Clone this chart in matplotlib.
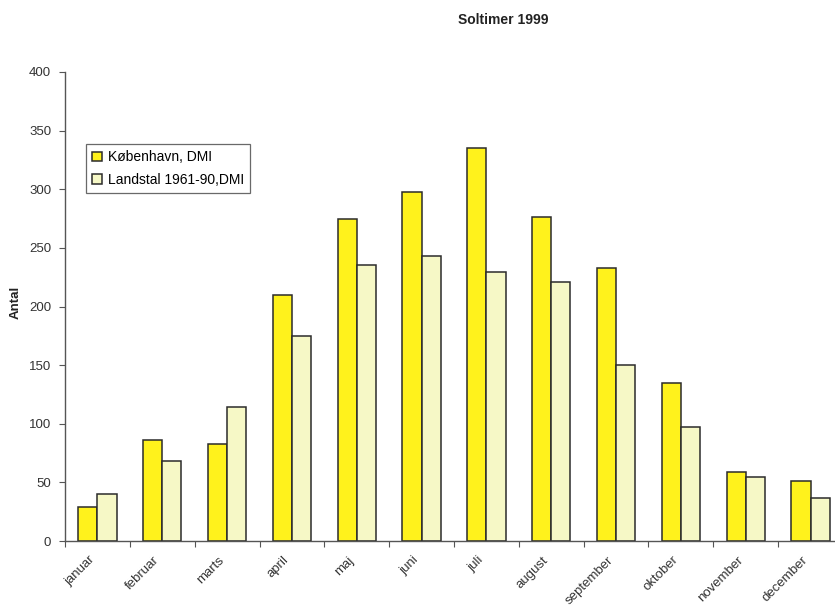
import numpy as np
import matplotlib

matplotlib.use("Agg")
import matplotlib.pyplot as plt
from matplotlib.transforms import ScaledTranslation

plt.rcParams["font.family"] = ["Liberation Sans", "DejaVu Sans"]

# data
months = ["januar", "februar", "marts", "april", "maj", "juni",
          "juli", "august", "september", "oktober", "november", "december"]
kbh_1999 = [29, 86, 83, 210, 275, 298, 335, 276, 233, 135, 59, 51]
normal_6190 = [40, 68, 114, 175, 235, 243, 229, 221, 150, 97, 55, 37]

fig = plt.figure(figsize=(8.35, 6.07), dpi=100)
W, H = 835, 607
ax = fig.add_axes([65 / W, (H - 541) / H, (843 - 65) / W, (541 - 72) / H])

x = np.arange(len(months))
bw = 0.295
edge = "#2b2b2b"
ax.bar(x - bw / 2, kbh_1999, width=bw, color="#fff21c", edgecolor=edge,
       linewidth=1.1, label="København, DMI", zorder=2)
ax.bar(x + bw / 2, normal_6190, width=bw, color="#f6f8c6", edgecolor=edge,
       linewidth=1.1, label="Landstal 1961-90,DMI", zorder=2)

ax.set_xlim(-0.5, len(months) - 0.5)
ax.set_ylim(0, 400)
ax.set_yticks(range(0, 401, 50))

# ticks between the months, labels placed by hand below the axis
ax.set_xticks(np.arange(-0.5, len(months)))
ax.set_xticklabels([])
ax.tick_params(axis="x", length=4, color="#555555", direction="out")
lab_tr = ax.get_xaxis_transform() + ScaledTranslation(-0.09, -0.13, fig.dpi_scale_trans)
for i, m in enumerate(months):
    ax.text(x[i], 0, m, transform=lab_tr, rotation=45, ha="right", va="top",
            rotation_mode="anchor", fontsize=9.5, color="#333333", clip_on=False)

ax.tick_params(axis="y", length=4, color="#555555", labelsize=9.5,
               labelcolor="#333333", pad=6)

for s in ["top", "right"]:
    ax.spines[s].set_visible(False)
for s in ["left", "bottom"]:
    ax.spines[s].set_color("#555555")
    ax.spines[s].set_linewidth(1.0)

fig.text(16 / W, 1 - 302 / H, "Antal", rotation=90, fontsize=9.5,
         fontweight="bold", color="#222222", ha="center", va="center")
fig.text(503 / W, 1 - 20 / H, "Soltimer 1999", fontsize=10,
         fontweight="bold", color="#222222", ha="center", va="center")

leg = ax.legend(loc="upper left", bbox_to_anchor=(86 / W, 1 - 144 / H),
                bbox_transform=fig.transFigure, fontsize=10, frameon=True,
                fancybox=False, handlelength=0.7, handleheight=0.7,
                handletextpad=0.4, borderpad=0.45, labelspacing=0.6,
                borderaxespad=0)
leg.get_frame().set_edgecolor("#444444")
leg.get_frame().set_linewidth(0.9)

fig.savefig("out.png", dpi=100)
